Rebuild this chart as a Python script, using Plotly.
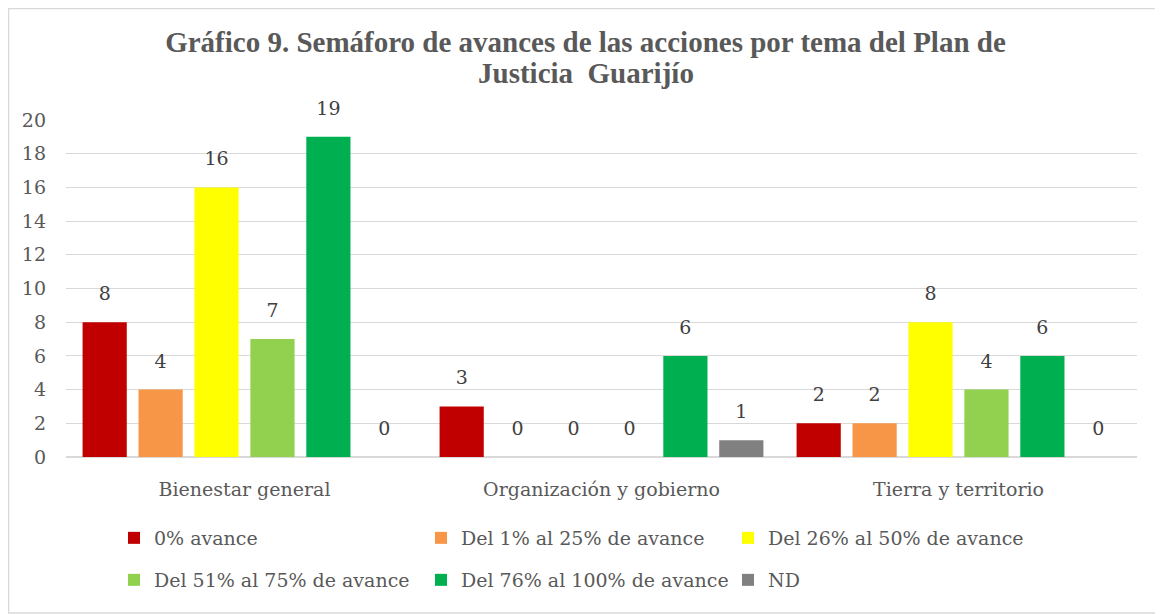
import plotly.graph_objects as go

categories = ["Bienestar general", "Organización y gobierno", "Tierra y territorio"]
series_names = ["0% avance", "Del 1% al 25% de avance", "Del 26% al 50% de avance",
                "Del 51% al 75% de avance", "Del 76% al 100% de avance", "ND"]
values_0 = [8, 3, 2]
values_1_25 = [4, 0, 2]
values_26_50 = [16, 0, 8]
values_51_75 = [7, 0, 4]
values_76_100 = [19, 6, 6]
values_nd = [0, 1, 0]
y_ticks = [0, 2, 4, 6, 8, 10, 12, 14, 16, 18, 20]

series_values = [values_0, values_1_25, values_26_50, values_51_75, values_76_100, values_nd]
colors = ["#C00000", "#F79646", "#FFFF00", "#92D050", "#00B050", "#808080"]

BODY_FONT = "DejaVu Serif"
TXT = "#595959"
FS = 19

W, H = 1155, 606          # page body has an 8px margin
ML, MR, MT, MB = 58, 26, 112, 157
PW, PH = W - ML - MR, H - MT - MB

fig = go.Figure()
for i, (name, vals, col) in enumerate(zip(series_names, series_values, colors)):
    fig.add_trace(go.Bar(
        name=name, x=categories, y=vals, marker_color=col, marker_line_width=0,
        legend="legend" if i < 3 else "legend2", hoverinfo="x+y+name",
    ))
# data labels, grouped like the bars
for i, (name, vals) in enumerate(zip(series_names, series_values)):
    fig.add_trace(go.Scatter(
        x=categories, y=vals, mode="markers+text", text=[str(v) for v in vals],
        textposition="top center", showlegend=False,
        marker=dict(size=26, color="rgba(0,0,0,0)"), cliponaxis=False,
        textfont=dict(family=BODY_FONT, size=FS, color="#404040"), hoverinfo="skip",
    ))

legend_common = dict(
    orientation="h", xanchor="left", yanchor="middle",
    font=dict(family=BODY_FONT, size=FS, color=TXT),
    entrywidth=262, entrywidthmode="pixels", itemwidth=30,
    bgcolor="rgba(0,0,0,0)", traceorder="normal",
)
leg_x = (106 - ML) / PW

fig.update_layout(
    width=W, height=H,
    paper_bgcolor="white", plot_bgcolor="white",
    margin=dict(l=ML, r=MR, t=MT, b=MB),
    title=dict(
        text="<b>Gráfico 9. Semáforo de avances de las acciones por tema del Plan de</b>",
        x=0.5, xanchor="center", xref="container", y=1 - 34 / H, yanchor="middle",
        font=dict(family="Liberation Serif", size=29, color=TXT),
    ),
    annotations=[dict(
        text="<b>Justicia  Guarijío</b>", xref="paper", yref="paper",
        x=(W / 2 - ML) / PW, y=(H - MB - 65) / PH, xanchor="center", yanchor="middle",
        showarrow=False, font=dict(family="Liberation Serif", size=29, color=TXT),
    )],
    barmode="group", bargap=0.06, bargroupgap=0.21,
    scattermode="group", scattergap=0.06,
    showlegend=True,
    legend=dict(x=leg_x, y=(H - MB - 530) / PH, **legend_common),
    legend2=dict(x=leg_x, y=(H - MB - 572) / PH, **legend_common),
    font=dict(family=BODY_FONT, color=TXT),
)
fig.update_yaxes(
    range=[0, 20], tickvals=y_ticks, showgrid=True, gridcolor="#D9D9D9", gridwidth=1,
    zeroline=True, zerolinecolor="#D9D9D9", showline=False, ticks="",
    tickfont=dict(family=BODY_FONT, size=FS, color=TXT), ticklabelstandoff=19,
)
fig.update_xaxes(
    showline=False, ticks="", tickfont=dict(family=BODY_FONT, size=FS, color=TXT),
    ticklabelstandoff=19,
)
fig.add_shape(type="rect", xref="paper", yref="paper",
              x0=(0.5 - ML) / PW, x1=(W - 1 - ML) / PW,
              y0=(H - MB - (H - 1)) / PH, y1=(H - MB - 0.5) / PH,
              line=dict(color="#D9D9D9", width=1.5), fillcolor="rgba(0,0,0,0)", layer="below")

fig.write_html("out.html")
